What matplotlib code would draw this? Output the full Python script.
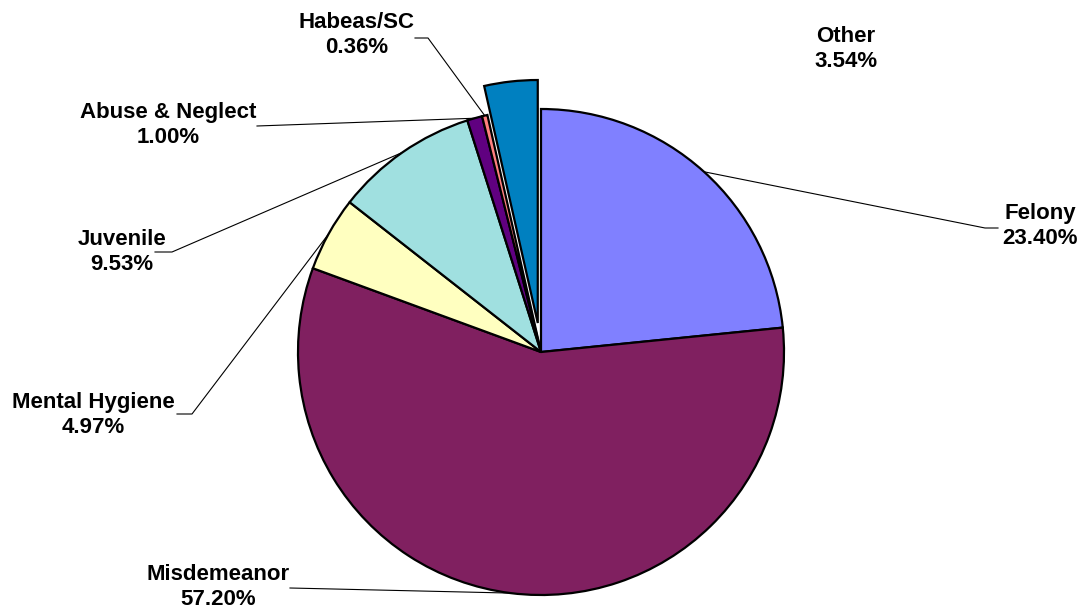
import matplotlib.pyplot as plt
import numpy as np

# case type shares (percent)
categories = ["Felony", "Misdemeanor", "Mental Hygiene", "Juvenile",
              "Abuse & Neglect", "Habeas/SC", "Other"]
shares = [23.40, 57.20, 4.97, 9.53, 1.00, 0.36, 3.54]
colors = ["#8080FF", "#802060", "#FFFFC0", "#A0E0E0",
          "#600080", "#FF8080", "#0080C0"]

W, H = 1079, 611
R = 243
# pie explode is in data units here, so scale by radius
explode = [0, 0, 0, 0, 0, 0, 0.12 * R]

# label centres and leader elbows, in pixels (y down)
label_xy = {
    "Felony": (1040, 226),
    "Misdemeanor": (218, 587),
    "Mental Hygiene": (93, 415),
    "Juvenile": (122, 252),
    "Abuse & Neglect": (168, 125),
    "Habeas/SC": (357, 35),
    "Other": (846, 49),
}
leader_pts = {
    "Felony": [(998, 228), (985, 228)],
    "Misdemeanor": [(290, 588)],
    "Mental Hygiene": [(177, 414), (192, 414)],
    "Juvenile": [(155, 252), (172, 252)],
    "Abuse & Neglect": [(257, 126)],
    "Habeas/SC": [(415, 38), (428, 38)],
    "Other": [],
}

fig = plt.figure(figsize=(W / 100, H / 100), dpi=100)
ax = fig.add_axes([0, 0, 1, 1])

wedges, _ = ax.pie(shares, colors=colors, explode=explode, startangle=90,
                   counterclock=False, center=(541, H - 352), radius=R,
                   wedgeprops=dict(edgecolor="black", linewidth=1.6))

for w, name, val in zip(wedges, categories, shares):
    lx, ly = label_xy[name]
    ax.text(lx, H - ly, f"{name}\n{val:.2f}%", ha="center", va="center",
            fontsize=16, fontweight="bold", family="Liberation Sans",
            linespacing=1.2)
    pts = leader_pts[name]
    if not pts:
        continue
    mid = np.deg2rad((w.theta1 + w.theta2) / 2)
    cx, cy = w.center
    ax_, ay_ = cx + w.r * np.cos(mid), cy + w.r * np.sin(mid)
    xs = [p[0] for p in pts] + [ax_]
    ys = [H - p[1] for p in pts] + [ay_]
    ax.plot(xs, ys, color="black", lw=0.8, zorder=0.5)

ax.set_xlim(0, W)
ax.set_ylim(0, H)
ax.set_aspect("equal")
ax.axis("off")

fig.savefig("out.png", dpi=100)
